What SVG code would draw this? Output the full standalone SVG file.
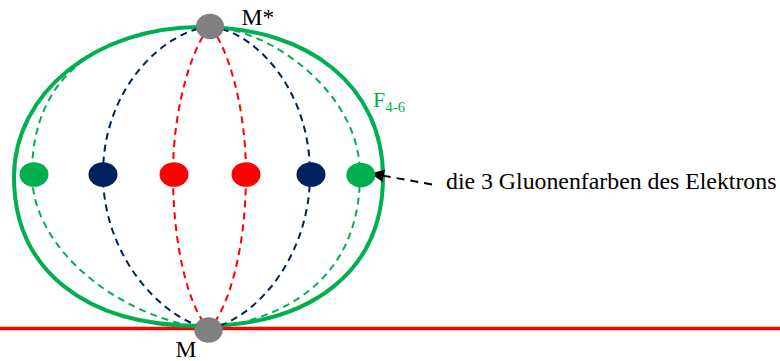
<svg xmlns="http://www.w3.org/2000/svg" width="780" height="361" viewBox="0 0 780 361">
<defs>
<style>
text{font-family:'Liberation Serif','Times New Roman',serif}
.dash{fill:none;stroke-width:2;stroke-dasharray:7 5}
.g{stroke:#00B050}
.n{stroke:#002060}
.r{stroke:#FF0000}
</style>
<marker id="ah" markerUnits="userSpaceOnUse" markerWidth="16" markerHeight="16" refX="13" refY="6.5" orient="auto">
<path d="M0,0 L13,6.5 L0,13 Z" fill="#000"/>
</marker>
</defs>
<rect width="780" height="361" fill="#fff"/>
<g id="baseline">
<line x1="0" y1="328.5" x2="780" y2="328.5" stroke="#FF0000" stroke-width="3.5"/>
</g>
<g id="F46">
<path d="M200,27 C309.8,27 383,87 383,177 C383,269.4 313.5,326 200,326 C84.7,326 14,269.4 14,177 C14,93 95.8,27 200,27 Z" fill="none" stroke="#00B050" stroke-width="4"/>
<text font-family="Liberation Serif, Times New Roman, serif" x="373" y="107.3" font-size="22" fill="#00B050">F<tspan font-size="15" dy="4.4">4-6</tspan></text>
</g>
<g id="connectors">
<path class="dash g" d="M210,27 C100,27 32,75 32,174 C32,250 120,318 209,329"/>
<path class="dash n" d="M210,27 C168,29 103,85 103,174 C103,255 160,318 209,329"/>
<path class="dash r" d="M210,27 C196,40 173,100 173,174 C173,250 190,310 209,329"/>
<path class="dash r" d="M210,27 C224,40 246,100 246,174 C246,250 228,310 209,329"/>
<path class="dash n" d="M210,27 C250,29 310,85 310,174 C310,255 258,318 209,329"/>
<path class="dash g" d="M210,27 C265,27 360,90 360,174 C360,260 310,315 209,329"/>
<line x1="432" y1="184.5" x2="371" y2="173.5" stroke="#000" stroke-width="2" stroke-dasharray="8 6" marker-end="url(#ah)"/>
</g>
<g id="dot-g1"><ellipse cx="34" cy="174.5" rx="14.5" ry="12.3" fill="#00B050"/></g>
<g id="dot-n1"><ellipse cx="103" cy="174.5" rx="14.5" ry="12.3" fill="#002060"/></g>
<g id="dot-r1"><ellipse cx="174" cy="174.5" rx="14.5" ry="12.3" fill="#FF0000"/></g>
<g id="dot-r2"><ellipse cx="246" cy="174.5" rx="14.5" ry="12.3" fill="#FF0000"/></g>
<g id="dot-n2"><ellipse cx="311" cy="174.5" rx="14.5" ry="12.3" fill="#002060"/></g>
<g id="dot-g2"><ellipse cx="360.8" cy="175" rx="14.5" ry="12.3" fill="#00B050"/></g>
<g id="Mstar">
<ellipse cx="210" cy="26.5" rx="14" ry="12.7" fill="#808080"/>
<text font-family="Liberation Serif, Times New Roman, serif" x="241.5" y="25" font-size="23.5" fill="#000">M*</text>
</g>
<g id="M">
<ellipse cx="208.5" cy="330" rx="14.2" ry="12.7" fill="#808080"/>
<text font-family="Liberation Serif, Times New Roman, serif" x="175.5" y="356.7" font-size="23.5" fill="#000">M</text>
</g>
<g id="label">
<text font-family="Liberation Serif, Times New Roman, serif" x="446" y="189.3" font-size="23.8" fill="#000">die 3 Gluonenfarben des Elektrons</text>
</g>
</svg>
